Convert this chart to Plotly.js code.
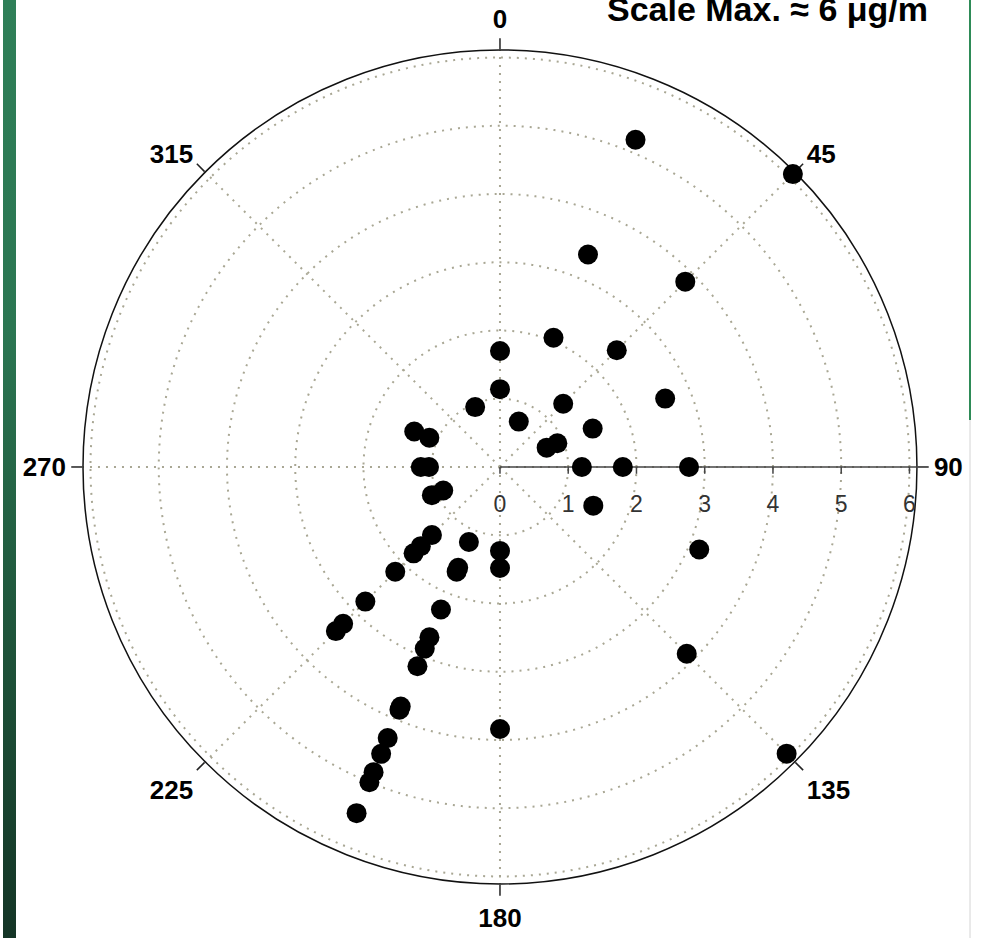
<!DOCTYPE html>
<html>
<head>
<meta charset="utf-8">
<script src="https://cdn.plot.ly/plotly-3.0.1.min.js"></script>
<style>
  html, body { margin: 0; padding: 0; background: #fff; }
  #wrap { position: relative; width: 988px; height: 938px; overflow: hidden; }
  #band { position: absolute; left: 3px; top: 0; width: 13px; height: 938px;
          background: linear-gradient(#2f7f58 0%, #2b7652 35%, #1e5239 70%, #143526 100%); }
  #chart { position: absolute; left: 0; top: 0; width: 988px; height: 938px; }
</style>
</head>
<body>
<div id="wrap">
  <div id="band"></div>
  <div id="chart"></div>
</div>
<script>
// Wind direction (degrees, clockwise from north) of each sample
const direction = [
  22.5, 45, 22.5, 45, 0, 22.5, 45, 0, 337.5, 45,
  67.5, 22.5, 67.5, 67.5, 67.5, 90, 90, 90, 112.5, 112.5,
  135, 135, 180, 180, 180, 202.5, 202.5, 202.5, 202.5, 202.5,
  202.5, 202.5, 202.5, 202.5, 202.5, 202.5, 202.5, 202.5, 202.5, 225,
  225, 225, 225, 225, 225, 225, 247.5, 247.5, 270, 270,
  292.5, 292.5
];
// Concentration of each sample (µg/m³)
const concentration = [
  5.19, 6.07, 3.37, 3.84, 1.70, 2.05, 2.42, 1.14, 0.95, 1.31,
  2.62, 0.72, 1.47, 0.74, 0.91, 1.20, 1.80, 2.77, 1.48, 3.16,
  3.87, 5.94, 1.23, 1.48, 3.84, 1.19, 1.60, 1.66, 2.26, 2.70,
  2.88, 3.16, 3.80, 3.85, 4.30, 4.55, 4.84, 5.00, 5.49, 1.41,
  1.64, 1.79, 2.17, 2.79, 3.25, 3.40, 1.08, 0.90, 1.16, 1.04,
  1.36, 1.12
];

const angleTicks = [0, 45, 90, 135, 180, 225, 270, 315];
const angleLabels = ['0', '45', '90', '135', '180', '225', '270', '315'];
const radialTicks = [0, 1, 2, 3, 4, 5, 6];
const radialLabels = ['0', '1', '2', '3', '4', '5', '6'];
const scaleMax = 6.11;
const titleText = 'Scale Max. \u2248 6 \u03bcg/m';

// Short downward tick marks under the east-pointing radial axis:
// each runs from (k, 90°) to the point a small drop below it.
const drop = 0.1;
const rTickR = [], rTickT = [];
radialTicks.forEach(k => {
  rTickR.push(k, Math.hypot(k, drop), null);
  rTickT.push(90, 90 + Math.atan2(drop, k) * 180 / Math.PI, null);
});

const gridStyle = { gridcolor: '#a9a794', griddash: '2px,6px', gridwidth: 2 };

const traces = [
  {
    type: 'scatterpolar', mode: 'lines', r: rTickR, theta: rTickT,
    line: { color: '#444', width: 1.5 }, cliponaxis: false, hoverinfo: 'skip'
  },
  {
    type: 'scatterpolar', mode: 'markers', r: concentration, theta: direction,
    marker: { color: '#000', size: 20 }, cliponaxis: false
  }
];

const layout = {
  width: 988, height: 938,
  margin: { l: 0, r: 0, t: 0, b: 0 },
  paper_bgcolor: 'rgba(0,0,0,0)',
  showlegend: false,
  font: { family: 'Liberation Sans, Arial, sans-serif' },
  polar: {
    domain: { x: [0.0840, 0.9281], y: [0.0576, 0.9467] },
    bgcolor: 'rgba(0,0,0,0)',
    radialaxis: Object.assign({
      range: [0, scaleMax], angle: 0, tickangle: 0,
      tickmode: 'array', tickvals: radialTicks, ticktext: radialLabels,
      ticks: 'outside', ticklen: 17, tickcolor: 'rgba(0,0,0,0)',
      showline: true, linecolor: '#444', linewidth: 1.5,
      tickfont: { size: 23, color: '#333' },
      layer: 'below traces'
    }, gridStyle),
    angularaxis: Object.assign({
      rotation: 90, direction: 'clockwise',
      tickmode: 'array', tickvals: angleTicks, ticktext: angleLabels,
      ticks: 'outside', ticklen: 11, tickcolor: '#222', tickwidth: 1.5,
      showline: true, linecolor: '#111', linewidth: 1.5,
      tickfont: { size: 26, color: '#000', weight: 'bold' },
      layer: 'below traces'
    }, gridStyle)
  },
  annotations: [{
    text: titleText, xref: 'paper', yref: 'paper',
    x: 605 / 988, xanchor: 'left', y: 1 - 9 / 938, yanchor: 'middle',
    showarrow: false, font: { size: 34, color: '#000', weight: 'bold' }
  }],
  shapes: [
    { type: 'line', xref: 'paper', yref: 'paper', x0: 970 / 988, x1: 970 / 988, y0: 1, y1: 1 - 420 / 938,
      line: { color: '#2e8b57', width: 2 } },
    { type: 'line', xref: 'paper', yref: 'paper', x0: 970 / 988, x1: 970 / 988, y0: 1 - 420 / 938, y1: 0,
      line: { color: '#d4d4d4', width: 1 } }
  ]
};

Plotly.newPlot('chart', traces, layout, { staticPlot: true, displayModeBar: false });
</script>
</body>
</html>
